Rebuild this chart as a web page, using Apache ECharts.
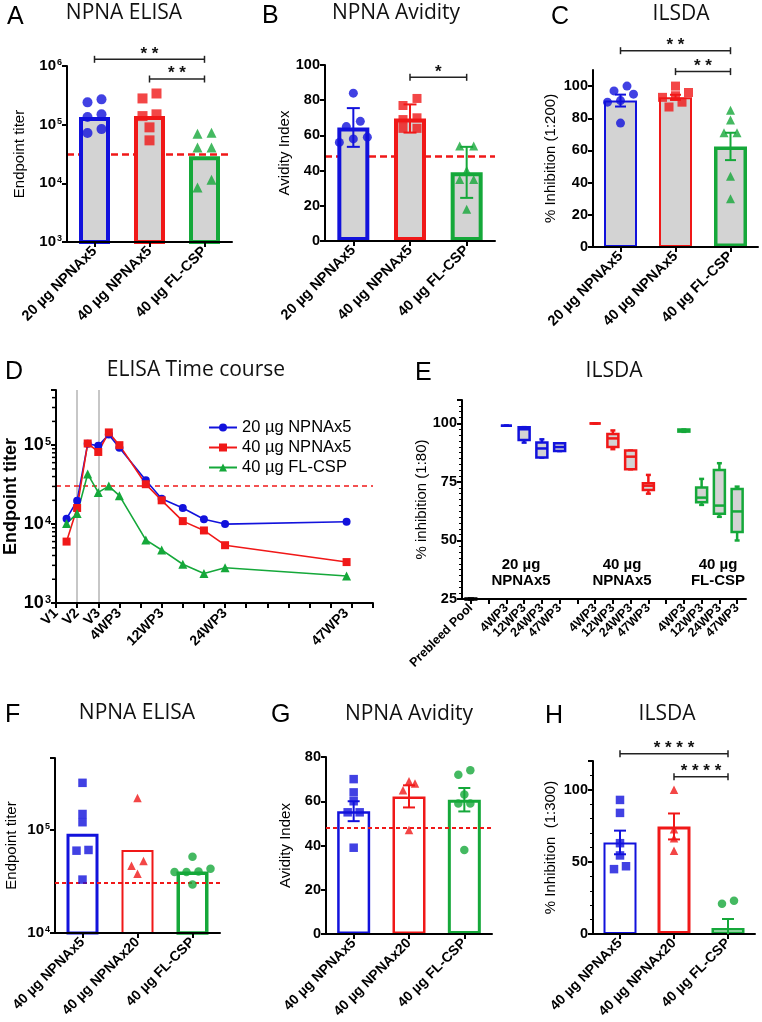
<!DOCTYPE html>
<html>
<head>
<meta charset="utf-8">
<script src="https://cdn.jsdelivr.net/npm/echarts@6/dist/echarts.min.js"></script>
<style>
  html, body { margin: 0; padding: 0; background: #fff; }
  #main { width: 762px; height: 1022px; }
</style>
</head>
<body>
<div id="main"></div>
<script>
// values
const groupsTop = ['20 µg NPNAx5', '40 µg NPNAx5', '40 µg FL-CSP'];
const groupsBottom = ['40 µg NPNAx5', '40 µg NPNAx20', '40 µg FL-CSP'];

// A - NPNA ELISA
const elisaMean = [135000, 140000, 29000];
const elisaBlue = [240000, 270000, 135000, 150000, 72000, 84000];
const elisaRed = [280000, 340000, 140000, 150000, 90000, 54000];
const elisaGreen = [73000, 70000, 41000, 41000, 8500, 11500];
const elisaCutoff = 31000;
const elisaSig = [[0, 2, 1300000], [1, 2, 600000]];
const elisaStars = ['**', '**'];

// B - NPNA avidity
const avidityMean = [64.5, 69.6, 39];
const aviditySD = [11, 8, 14.5];
const avidityBlue = [84, 68, 65, 59, 56, 58];
const avidityRed = [81, 77, 70, 69, 64, 64];
const avidityGreen = [54, 54, 40, 35, 35, 18];
const avidityCutoff = 48;
const aviditySig = [[1, 2, 93]];
const avidityStars = ['*'];

// C - ILSDA 1:200
const ilsdaMean = [91, 93, 62.5];
const ilsdaSEM = [3.7, 1.6, 8.5];
const ilsdaBlue = [100, 97, 95, 91, 90, 77];
const ilsdaRed = [100, 96, 94, 93, 90, 87];
const ilsdaGreen = [85, 79, 71, 71, 44, 30];
const ilsdaSig = [[0, 2, 122], [1, 2, 109]];
const ilsdaStars = ['**', '**'];

// D - ELISA time course (x in weeks from V1)
const timeWeeks = [2, 4, 6, 8, 10, 12, 17, 20, 24, 28, 32, 55];
const timeBlue = [11700, 19800, 104000, 98000, 136000, 93000, 36000, 21000, 16000, 11500, 10000, 10700];
const timeRed = [6000, 16000, 105000, 82000, 145000, 100000, 32000, 20000, 10900, 8300, 5400, 3300];
const timeGreen = [10200, 13600, 43000, 25200, 30300, 22900, 6300, 4700, 3100, 2360, 2800, 2200];
const timeTickWeeks = [0, 4, 8, 12, 20, 32, 55];
const timeTickNames = ['V1', 'V2', 'V3', '4WP3', '12WP3', '24WP3', '47WP3'];
const timeDoseWeeks = [4, 8];
const timeCutoff = 31000;

// E - ILSDA 1:80 box plots: [min, Q1, median, Q3, max]
const boxCategories = ['Prebleed Pool', '', '4WP3', '12WP3', '24WP3', '47WP3', '',
  '4WP3', '12WP3', '24WP3', '47WP3', '', '4WP3', '12WP3', '24WP3', '47WP3'];
const boxPrebleed = [25, 25, 25, 25, 25];
const boxBlue = [[99, 99, 99, 99, 99], [91.8, 92.9, 97.5, 98.4, 98.4],
  [85.4, 85.4, 89.3, 91.8, 93.2], [88.2, 88.2, 89.9, 91.5, 91.5]];
const boxRed = [[100, 100, 100, 100, 100], [89, 89.9, 93.6, 95.5, 97],
  [80.4, 80.4, 85.8, 88.4, 88.4], [70, 71.6, 73.4, 74.4, 78]];
const boxGreen = [[96.4, 96.5, 97, 97.4, 97.4], [65.2, 66.3, 68.3, 72.6, 76.3],
  [60.1, 61.4, 64.9, 80.1, 83], [50, 53.6, 62.4, 72, 73]];
const boxGroupNames = ['20 µg\nNPNAx5', '40 µg\nNPNAx5', '40 µg\nFL-CSP'];

// F - NPNA ELISA, second study
const elisa2Mean = [92000, 64000, 39500];
const elisa2Blue = [287000, 143000, 119000, 63000, 64000, 33000];
const elisa2Red = [205000, 50000, 45000, 37500];
const elisa2Green = [55000, 42000, 39000, 39000, 39500, 29500];
const elisa2Cutoff = 31000;

// G - NPNA avidity, second study
const avidity2Mean = [55.5, 62.2, 60.7];
const avidity2SEM = [4.5, 5, 5.3];
const avidity2Blue = [70, 64, 60, 55, 55, 39];
const avidity2Red = [68, 69, 65, 47];
const avidity2Green = [74, 72, 63, 59, 59, 38];
const avidity2Cutoff = 48;

// H - ILSDA 1:300
const ilsda2Mean = [63.5, 74.6, 4.2];
const ilsda2SEM = [8.2, 9, 6.2];
const ilsda2Blue = [93, 84, 63, 54.5, 47, 45];
const ilsda2Red = [100, 72.7, 66.5, 57.7];
const ilsda2Green = [21, 23, -4, -5, -4, -6];
const ilsda2Sig = [[0, 2, 125], [1, 2, 109]];
const ilsda2Stars = ['****', '****'];

// ---------- styling / layout ----------
const BLUE = '#1212dc', RED = '#f01818', GREEN = '#15a83a', GRAY = '#d3d3d3';
const SANS = 'Liberation Sans';
const colors3 = [BLUE, RED, GREEN];

const grids = [
  { left: 67, top: 66, width: 165, height: 176 },   // A
  { left: 325, top: 65, width: 170, height: 176 },  // B
  { left: 593, top: 70, width: 165, height: 177 },  // C
  { left: 56, top: 390, width: 317, height: 213 },  // D
  { left: 462, top: 400, width: 284, height: 199 }, // E
  { left: 55, top: 758, width: 165, height: 175 },  // F
  { left: 326, top: 757, width: 166, height: 177 }, // G
  { left: 593, top: 761, width: 162, height: 173 }  // H
];
const yRanges = [
  { type: 'log', min: 1e3, max: 1e6 },
  { min: 0, max: 100, interval: 20 },
  { min: 0, max: 110, interval: 20 },
  { type: 'log', min: 1e3, max: 5e5 },
  { min: 25, max: 110, interval: 25 },
  { type: 'log', min: 1e4, max: 5e5 },
  { min: 0, max: 80, interval: 20 },
  { min: 0, max: 120, interval: 50 }
];

function pxScale(gi) {
  const r = yRanges[gi], h = grids[gi].height;
  if (r.type === 'log') {
    const k = h / Math.log10(r.max / r.min);
    return v => Math.log10(v) * k;
  }
  const k = h / (r.max - r.min);
  return v => v * k;
}

// spread points sharing a height side by side, low values on the left
function swarmOffsets(vals, toPx, gap, step) {
  const order = vals.map((v, i) => i).sort((a, b) => vals[a] - vals[b]);
  const rows = [];
  order.forEach(i => {
    const row = rows[rows.length - 1];
    if (row && Math.abs(toPx(vals[i]) - toPx(vals[row[0]])) < gap) row.push(i);
    else rows.push([i]);
  });
  const off = vals.map(() => 0);
  rows.forEach(r => r.forEach((i, j) => { off[i] = (j - (r.length - 1) / 2) * step; }));
  return off;
}

const pow10 = v => {
  const e = Math.log10(v);
  return Math.abs(e - Math.round(e)) < 1e-6 ? '{b|10}{s|' + Math.round(e) + '}' : '';
};
const supRich = fs => ({
  b: { fontSize: fs, fontWeight: 'bold', fontFamily: SANS, color: '#000' },
  s: { fontSize: Math.round(fs * 0.62), fontWeight: 'bold', fontFamily: SANS, color: '#000', verticalAlign: 'top', padding: [0, 0, 0, 1] }
});

const axisLine = { show: true, lineStyle: { color: '#000', width: 2 } };
const axisTick = { show: true, length: 5, lineStyle: { color: '#000', width: 2 } };

function catAxis(gi, cats, fs) {
  return {
    type: 'category', gridIndex: gi, data: cats, z: 3,
    axisLine, axisTick: Object.assign({ alignWithLabel: true }, axisTick),
    axisLabel: { rotate: 45, interval: 0, margin: 7, showMinLabel: true, color: '#000', fontFamily: SANS, fontWeight: 'bold', fontSize: fs }
  };
}

function valAxis(gi, name, nameGap, extra) {
  const r = yRanges[gi];
  const isLog = r.type === 'log';
  const fs = (extra && extra.fs) || 14.5;
  const ax = {
    type: isLog ? 'log' : 'value', gridIndex: gi, min: r.min, max: r.max, z: 3,
    name, nameLocation: 'middle', nameGap,
    nameTextStyle: Object.assign({ fontFamily: SANS, fontSize: 15, color: '#000' }, extra && extra.nameStyle),
    axisLine, axisTick, splitLine: { show: false },
    axisLabel: {
      color: '#000', fontFamily: SANS, fontWeight: 'bold', fontSize: fs, margin: 5, showMinLabel: true,
      showMaxLabel: isLog ? true : (r.max - r.min) % r.interval === 0
    }
  };
  if (isLog) {
    ax.logBase = 10;
    ax.axisLabel.formatter = pow10;
    ax.axisLabel.rich = supRich(fs);
  } else {
    ax.interval = r.interval;
  }
  if (extra && extra.minor) {
    ax.minorTick = { show: true, splitNumber: extra.minor, length: 3, lineStyle: { color: '#000', width: 1 } };
  }
  return ax;
}

function barSeries(gi, means, fill, width, borders, cutoff, cutWidth, cutDash, cutOnTop) {
  return {
    type: 'bar', xAxisIndex: gi, yAxisIndex: gi, barWidth: width, silent: true, z: 2,
    data: means.map((m, i) => ({ value: m, itemStyle: { color: fill, borderColor: colors3[i], borderWidth: borders[i] } })),
    markLine: {
      silent: true, symbol: 'none', z: cutOnTop ? 5 : 1, label: { show: false },
      lineStyle: { color: RED, type: cutDash, width: cutWidth }, emphasis: { disabled: true },
      data: [{ yAxis: cutoff }]
    }
  };
}

function pointSeries(gi, groups, shapes, size, step) {
  const toPx = pxScale(gi);
  const data = [];
  groups.forEach((vals, g) => {
    const off = swarmOffsets(vals, toPx, size * 0.95, step);
    vals.forEach((v, i) => data.push({
      value: [g, v], symbol: shapes[g], symbolOffset: [off[i], 0], itemStyle: { color: colors3[g] }
    }));
  });
  return { type: 'scatter', xAxisIndex: gi, yAxisIndex: gi, symbolSize: size, silent: true, z: 6, data };
}

function errSeries(gi, means, errs, lw, cap) {
  return {
    type: 'custom', xAxisIndex: gi, yAxisIndex: gi, clip: true, silent: true, z: 4,
    data: means.map((m, i) => [i, m - errs[i], m + errs[i]]),
    renderItem(params, api) {
      const lo = api.coord([api.value(0), api.value(1)]);
      const hi = api.coord([api.value(0), api.value(2)]);
      const s = { stroke: colors3[params.dataIndex], lineWidth: lw };
      return {
        type: 'group', children: [
          { type: 'line', shape: { x1: hi[0], y1: hi[1], x2: lo[0], y2: lo[1] }, style: s },
          { type: 'line', shape: { x1: hi[0] - cap, y1: hi[1], x2: hi[0] + cap, y2: hi[1] }, style: s },
          { type: 'line', shape: { x1: lo[0] - cap, y1: lo[1], x2: lo[0] + cap, y2: lo[1] }, style: s }
        ]
      };
    }
  };
}

function sigSeries(gi, rows, stars) {
  return {
    type: 'custom', xAxisIndex: gi, yAxisIndex: gi, clip: false, silent: true, z: 8,
    data: rows,
    renderItem(params, api) {
      const a = api.coord([api.value(0), api.value(2)]);
      const b = api.coord([api.value(1), api.value(2)]);
      const s = { stroke: '#222', lineWidth: 1.5 };
      return {
        type: 'group', children: [
          { type: 'line', shape: { x1: a[0], y1: a[1], x2: b[0], y2: b[1] }, style: s },
          { type: 'line', shape: { x1: a[0], y1: a[1] - 3.5, x2: a[0], y2: a[1] + 3.5 }, style: s },
          { type: 'line', shape: { x1: b[0], y1: b[1] - 3.5, x2: b[0], y2: b[1] + 3.5 }, style: s },
          {
            type: 'text', x: (a[0] + b[0]) / 2, y: a[1] + 3,
            style: { text: stars[params.dataIndex].split('').join(' '), fill: '#111', font: 'bold 17px "Liberation Sans"', align: 'center', verticalAlign: 'bottom', textAlign: 'center', textVerticalAlign: 'bottom' }
          }
        ]
      };
    }
  };
}

function boxSeries(gi, items, color, lw, boxW, capW, fill) {
  return {
    type: 'custom', xAxisIndex: gi, yAxisIndex: gi, clip: false, silent: true, z: 4,
    data: items,
    renderItem(params, api) {
      const x = api.value(0);
      const p = k => api.coord([x, api.value(k)]);
      const mn = p(1), q1 = p(2), md = p(3), q3 = p(4), mx = p(5);
      const cx = mn[0], h = boxW / 2, c = capW / 2;
      const s = { stroke: color, lineWidth: lw };
      return {
        type: 'group', children: [
          { type: 'line', shape: { x1: cx, y1: mx[1], x2: cx, y2: q3[1] }, style: s },
          { type: 'line', shape: { x1: cx, y1: q1[1], x2: cx, y2: mn[1] }, style: s },
          { type: 'line', shape: { x1: cx - c, y1: mx[1], x2: cx + c, y2: mx[1] }, style: s },
          { type: 'line', shape: { x1: cx - c, y1: mn[1], x2: cx + c, y2: mn[1] }, style: s },
          { type: 'rect', shape: { x: cx - h, y: q3[1], width: boxW, height: q1[1] - q3[1] }, style: { fill: fill, stroke: color, lineWidth: lw } },
          { type: 'line', shape: { x1: cx - h, y1: md[1], x2: cx + h, y2: md[1] }, style: s }
        ]
      };
    }
  };
}

const boxStart = [2, 7, 12];
const boxItems = (stats, start) => stats.map((s, i) => [start + i].concat(s));

function lineSeries(name, vals, color, symbol, size) {
  return {
    type: 'line', name, xAxisIndex: 3, yAxisIndex: 3, z: 5, silent: true,
    data: timeWeeks.map((w, i) => [w, vals[i]]),
    symbol, symbolSize: size, showSymbol: true,
    lineStyle: { color, width: 1.6 }, itemStyle: { color }
  };
}

// log minor tick marks (2..9 x 10^k) on the left axis of panel D
const logMinor = [];
for (let k = 3; k <= 5; k++) for (let m = 2; m <= 9; m++) if (m * Math.pow(10, k) < yRanges[3].max) logMinor.push(m * Math.pow(10, k));
const minorTickSeries = {
  type: 'custom', xAxisIndex: 3, yAxisIndex: 3, clip: false, silent: true, z: 3,
  data: logMinor.map(v => [0, v]),
  renderItem(params, api) {
    const p = api.coord([api.value(0), api.value(1)]);
    return { type: 'line', shape: { x1: p[0] - 4, y1: p[1], x2: p[0], y2: p[1] }, style: { stroke: '#000', lineWidth: 1.5 } };
  }
};

// panel letters and titles
const panelText = [
  ['A', 7, 17, 'NPNA ELISA', 124, 13],
  ['B', 262, 16, 'NPNA Avidity', 396, 13],
  ['C', 551, 17, 'ILSDA', 681, 14],
  ['D', 5, 372, 'ELISA Time course', 196, 370],
  ['E', 415, 373, 'ILSDA', 614, 371],
  ['F', 5, 715, 'NPNA ELISA', 137, 713],
  ['G', 271, 715, 'NPNA Avidity', 409, 714],
  ['H', 545, 716, 'ILSDA', 667, 714]
];
const graphic = [];
panelText.forEach(([l, lx, ly, t, tx, ty]) => {
  graphic.push({ type: 'text', x: lx, y: ly, silent: true,
    style: { text: l, font: '25px "Liberation Sans"', fill: '#000', align: 'left', verticalAlign: 'middle', textAlign: 'left', textVerticalAlign: 'middle' } });
  graphic.push({ type: 'text', x: tx, y: ty, silent: true,
    style: { text: t, font: '21px "Open Sans"', fill: '#111', align: 'center', verticalAlign: 'middle', textAlign: 'center', textVerticalAlign: 'middle' } });
});
[521, 622, 718].forEach((x, i) => {
  graphic.push({ type: 'text', x, y: 573, silent: true,
    style: { text: boxGroupNames[i], font: 'bold 15px "Liberation Sans"', lineHeight: 16, fill: '#000', align: 'center', verticalAlign: 'middle', textAlign: 'center', textVerticalAlign: 'middle' } });
});

const timeXAxis = {
  type: 'value', gridIndex: 3, min: 0, max: 60, interval: 4, z: 3,
  axisLine, axisTick, splitLine: { show: false },
  axisLabel: {
    customValues: timeTickWeeks, showMinLabel: true, hideOverlap: false,
    formatter: v => { const k = timeTickWeeks.indexOf(v); return k < 0 ? '' : timeTickNames[k]; },
    rotate: 45, margin: 8, color: '#000', fontFamily: SANS, fontWeight: 'bold', fontSize: 14
  }
};

const chart = echarts.init(document.getElementById('main'));
chart.setOption({
  animation: false,
  backgroundColor: '#fff',
  textStyle: { fontFamily: SANS },
  grid: grids,
  graphic,
  legend: {
    data: groupsTop, left: 203, top: 414, orient: 'vertical', itemGap: 3,
    itemWidth: 28, itemHeight: 10, selectedMode: false,
    textStyle: { fontSize: 16.5, fontFamily: SANS, color: '#000' }
  },
  xAxis: [
    catAxis(0, groupsTop, 14.5),
    catAxis(1, groupsTop, 14.5),
    catAxis(2, groupsTop, 14.5),
    timeXAxis,
    catAxis(4, boxCategories, 12.5),
    catAxis(5, groupsBottom, 14),
    catAxis(6, groupsBottom, 14),
    catAxis(7, groupsBottom, 14)
  ],
  yAxis: [
    valAxis(0, 'Endpoint titer', 40, { fs: 15 }),
    valAxis(1, 'Avidity Index', 33),
    valAxis(2, '% Inhibition (1:200)', 35),
    valAxis(3, 'Endpoint titer', 36, { fs: 18, nameStyle: { fontSize: 18, fontWeight: 'bold' } }),
    valAxis(4, '% inhibition (1:80)', 30, { minor: 10 }),
    valAxis(5, 'Endpoint titer', 36, { fs: 15 }),
    valAxis(6, 'Avidity Index', 33),
    valAxis(7, '% Inhibition  (1:300)', 35, { minor: 5 })
  ],
  series: [
    // A
    barSeries(0, elisaMean, GRAY, 31, [4, 4, 4], elisaCutoff, 2.5, [7, 4], false),
    pointSeries(0, [elisaBlue, elisaRed, elisaGreen], ['circle', 'rect', 'triangle'], 10, 14),
    sigSeries(0, elisaSig, elisaStars),
    // B
    barSeries(1, avidityMean, GRAY, 32, [4, 4, 4], avidityCutoff, 2.5, [7, 4], false),
    errSeries(1, avidityMean, aviditySD, 2, 6.5),
    pointSeries(1, [avidityBlue, avidityRed, avidityGreen], ['circle', 'rect', 'triangle'], 9, 14),
    sigSeries(1, aviditySig, avidityStars),
    // C
    barSeries(2, ilsdaMean, GRAY, 33, [2, 2, 3.5], 0, 0, 'solid', false),
    errSeries(2, ilsdaMean, ilsdaSEM, 2, 5.5),
    pointSeries(2, [ilsdaBlue, ilsdaRed, ilsdaGreen], ['circle', 'rect', 'triangle'], 9, 13),
    sigSeries(2, ilsdaSig, ilsdaStars),
    // D
    Object.assign(lineSeries(groupsTop[0], timeBlue, BLUE, 'circle', 8), {
      markLine: {
        silent: true, symbol: 'none', z: 1, label: { show: false }, emphasis: { disabled: true },
        data: timeDoseWeeks.map(w => ({ xAxis: w, lineStyle: { color: '#b4b4b4', width: 1.5, type: 'solid' } }))
          .concat([{ yAxis: timeCutoff, lineStyle: { color: RED, width: 1.5, type: [5, 4] } }])
      }
    }),
    lineSeries(groupsTop[1], timeRed, RED, 'rect', 8),
    lineSeries(groupsTop[2], timeGreen, GREEN, 'triangle', 9),
    minorTickSeries,
    // E
    boxSeries(4, [[0].concat(boxPrebleed)], '#000', 3, 13, 6, GRAY),
    boxSeries(4, boxItems(boxBlue, boxStart[0]), BLUE, 2.5, 11, 5, GRAY),
    boxSeries(4, boxItems(boxRed, boxStart[1]), RED, 2.5, 11, 5, GRAY),
    boxSeries(4, boxItems(boxGreen, boxStart[2]), GREEN, 2.5, 11, 5, GRAY),
    // F
    barSeries(5, elisa2Mean, '#fff', 32, [3, 2, 3.5], elisa2Cutoff, 1.8, [4, 3], true),
    pointSeries(5, [elisa2Blue, elisa2Red, elisa2Green], ['rect', 'triangle', 'circle'], 8.5, 12),
    // G
    barSeries(6, avidity2Mean, '#fff', 33, [2.5, 2.5, 3], avidity2Cutoff, 1.8, [4, 3], true),
    errSeries(6, avidity2Mean, avidity2SEM, 2, 6),
    pointSeries(6, [avidity2Blue, avidity2Red, avidity2Green], ['rect', 'triangle', 'circle'], 8.5, 12),
    // H
    barSeries(7, ilsda2Mean, '#fff', 33, [2, 3, 2.5], 0, 0, 'solid', false),
    errSeries(7, ilsda2Mean, ilsda2SEM, 2, 6),
    pointSeries(7, [ilsda2Blue, ilsda2Red, ilsda2Green], ['rect', 'triangle', 'circle'], 8.5, 12),
    sigSeries(7, ilsda2Sig, ilsda2Stars)
  ]
});
</script>
</body>
</html>
